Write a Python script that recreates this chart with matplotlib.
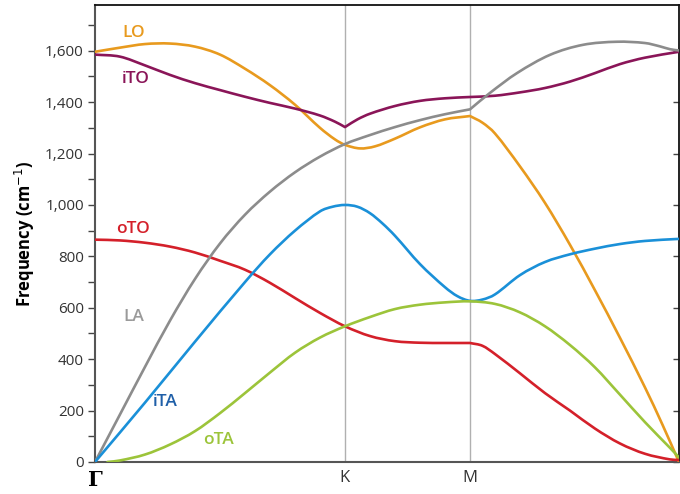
import matplotlib.pyplot as plt
from matplotlib.path import Path
from matplotlib.patches import PathPatch
from matplotlib.ticker import MultipleLocator, FuncFormatter

# high-symmetry path: Gamma -> K -> M -> Gamma (path length in units of |GK|)
q_ticks = [0.0, 1.0, 1.5, 2.336]
q_labels = ['Γ', 'K', 'M', '']

# branch data along the path (q, frequency in cm^-1)
lo_q = [0.0, 0.1, 0.2, 0.3, 0.4, 0.5, 0.6, 0.7, 0.8, 0.9, 0.96, 1.0, 1.06, 1.12, 1.2,
        1.3, 1.4, 1.5, 1.55, 1.6, 1.7, 1.8, 1.9, 2.0, 2.1, 2.2, 2.27, 2.336]
lo_f = [1596, 1612, 1626, 1628, 1616, 1585, 1530, 1466, 1390, 1300, 1255, 1234, 1220, 1228,
        1258, 1302, 1333, 1346, 1320, 1278, 1150, 1008, 845, 668, 483, 290, 145, 0]

ito_q = [0.0, 0.1, 0.2, 0.3, 0.4, 0.5, 0.6, 0.7, 0.8, 0.9, 0.96, 1.0, 1.05, 1.1, 1.2,
         1.3, 1.4, 1.5, 1.6, 1.7, 1.8, 1.9, 2.0, 2.1, 2.2, 2.336]
ito_f = [1585, 1577, 1543, 1506, 1474, 1447, 1421, 1397, 1375, 1348, 1324, 1303, 1333, 1355,
         1385, 1405, 1415, 1420, 1425, 1438, 1455, 1480, 1513, 1548, 1573, 1596]

la_q = [0.0, 0.1, 0.2, 0.3, 0.4, 0.5, 0.6, 0.7, 0.8, 0.9, 1.0, 1.1, 1.2, 1.3, 1.4, 1.5,
        1.58, 1.688, 1.82, 1.952, 2.088, 2.2, 2.26, 2.3, 2.336]
la_f = [0, 185, 370, 550, 712, 850, 962, 1052, 1127, 1188, 1237, 1272, 1303, 1330, 1353, 1372,
        1436, 1513, 1584, 1623, 1635, 1630, 1617, 1606, 1601]

ita_q = [0.0, 0.2, 0.4, 0.6, 0.7, 0.8, 0.9, 0.95, 1.0, 1.05, 1.1, 1.15, 1.2, 1.3, 1.4,
         1.45, 1.5, 1.55, 1.6, 1.7, 1.8, 1.9, 2.0, 2.1, 2.2, 2.336]
ita_f = [0, 231, 468, 700, 808, 900, 975, 993, 1000, 993, 968, 928, 880, 770, 680,
         645, 627, 632, 652, 727, 778, 808, 830, 848, 860, 868]

oto_q = [0.0, 0.1, 0.2, 0.3, 0.4, 0.5, 0.6, 0.7, 0.8, 0.9, 1.0, 1.1, 1.2, 1.3, 1.4, 1.5,
         1.55, 1.6, 1.7, 1.8, 1.9, 2.0, 2.1, 2.2, 2.3, 2.336]
oto_f = [865, 862, 853, 838, 815, 783, 748, 697, 638, 580, 528, 490, 470, 464, 463, 463,
         452, 420, 345, 268, 200, 130, 72, 32, 10, 8]

ota_q = [0.05, 0.1, 0.2, 0.3, 0.4, 0.5, 0.6, 0.7, 0.8, 0.9, 1.0, 1.1, 1.2, 1.3, 1.4, 1.5,
         1.6, 1.7, 1.8, 1.9, 2.0, 2.1, 2.2, 2.3, 2.336]
ota_f = [0, 6, 29, 68, 120, 190, 268, 348, 425, 484, 528, 564, 595, 612, 621, 625,
         615, 582, 528, 455, 368, 262, 155, 55, 18]

# name, q, freq, line colour, label colour, label position, q of cusps
branches = [
    ('LO', lo_q, lo_f, '#e89a1e', '#e89a1e', (0.108, 1669), [1.5]),
    ('iTO', ito_q, ito_f, '#8a1558', '#8a1558', (0.108, 1490), [1.0]),
    ('oTO', oto_q, oto_f, '#d4202a', '#d4202a', (0.084, 907), [1.5]),
    ('LA', la_q, la_f, '#8c8c8c', '#9a9a9a', (0.112, 565), [1.5]),
    ('iTA', ita_q, ita_f, '#1a90d8', '#1f5fa8', (0.232, 235), []),
    ('oTA', ota_q, ota_f, '#9cc43a', '#9cc43a', (0.432, 87), []),
]


def smooth_path(q, f, cusps):
    # piecewise cubic Hermite through the points, drawn as Bezier segments;
    # tangents are one-sided at the ends and at cusps
    n = len(q)
    cusp_idx = {i for i in range(n) if q[i] in cusps}
    slopes = []
    for i in range(n):
        if i == 0:
            slopes.append(((f[1] - f[0]) / (q[1] - q[0]),) * 2)
        elif i == n - 1:
            slopes.append(((f[i] - f[i - 1]) / (q[i] - q[i - 1]),) * 2)
        elif i in cusp_idx:
            slopes.append(((f[i] - f[i - 1]) / (q[i] - q[i - 1]),
                           (f[i + 1] - f[i]) / (q[i + 1] - q[i])))
        else:
            m = (f[i + 1] - f[i - 1]) / (q[i + 1] - q[i - 1])
            slopes.append((m, m))
    verts = [(q[0], f[0])]
    codes = [Path.MOVETO]
    for i in range(n - 1):
        h = q[i + 1] - q[i]
        m0 = slopes[i][1]
        m1 = slopes[i + 1][0]
        verts += [(q[i] + h / 3, f[i] + m0 * h / 3),
                  (q[i + 1] - h / 3, f[i + 1] - m1 * h / 3),
                  (q[i + 1], f[i + 1])]
        codes += [Path.CURVE4] * 3
    return Path(verts, codes)


fig = plt.figure(figsize=(6.8, 4.94), dpi=100)
ax = fig.add_axes([0.1397, 0.0648, 0.8588, 0.9251])

for q in q_ticks[1:3]:
    ax.axvline(q, color='#b0b0b0', lw=1.0, zorder=1)

for name, q, f, c, tc, pos, cusps in branches:
    ax.add_patch(PathPatch(smooth_path(q, f, cusps), fill=False, edgecolor=c,
                           lw=1.9, capstyle='round', joinstyle='round', zorder=3))
    ax.text(pos[0], pos[1], name, color=tc, fontsize=12.5, fontweight='semibold',
            family='Open Sans', ha='left', va='center')

ax.set_xlim(0, q_ticks[-1])
ax.set_ylim(0, 1778)

ax.yaxis.set_major_locator(MultipleLocator(200))
ax.yaxis.set_minor_locator(MultipleLocator(100))
ax.yaxis.set_major_formatter(FuncFormatter(lambda v, p: '{:,.0f}'.format(v)))
ax.tick_params(axis='y', which='major', direction='out', length=5, width=1,
               color='#444444', labelsize=11, labelcolor='#333333', pad=3)
ax.tick_params(axis='y', which='minor', direction='out', length=5, width=1,
               color='#444444')
for t in ax.get_yticklabels():
    t.set_family('Open Sans')

# inward ticks along the right edge
sec = ax.secondary_yaxis('right')
sec.yaxis.set_major_locator(MultipleLocator(200))
sec.tick_params(direction='in', length=4, width=1, color='#444444', labelright=False)
sec.spines['right'].set_visible(False)

ax.set_xticks(q_ticks)
ax.set_xticklabels(q_labels)
ax.tick_params(axis='x', length=0, pad=6, labelsize=12, labelcolor='#333333')
xl = ax.get_xticklabels()
xl[0].set_family('DejaVu Serif')
xl[0].set_fontweight('bold')
xl[0].set_fontsize(15)
xl[0].set_color('black')
for t in xl[1:]:
    t.set_family('Open Sans')

ax.set_ylabel('Frequency (cm$^{-1}$)', fontsize=12, fontweight='bold',
              family='Open Sans', labelpad=6)

for side in ['left', 'bottom']:
    ax.spines[side].set_color('#555555')
    ax.spines[side].set_linewidth(1.5)
for side in ['top', 'right']:
    ax.spines[side].set_color('#111111')
    ax.spines[side].set_linewidth(1.3)

fig.savefig('out.png', dpi=100)
